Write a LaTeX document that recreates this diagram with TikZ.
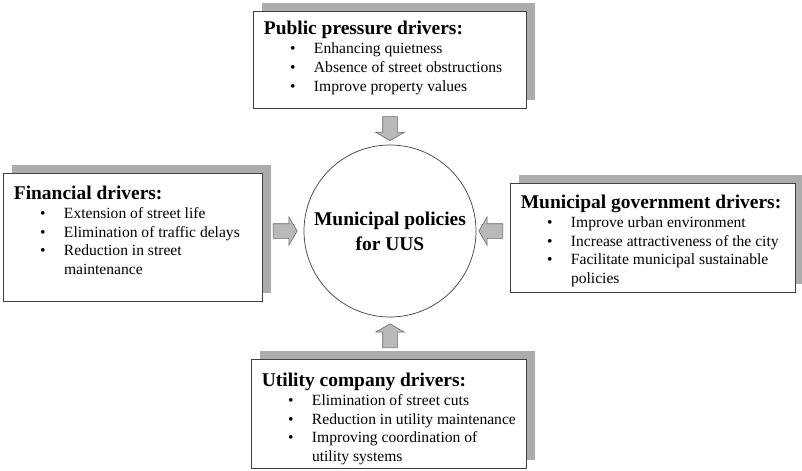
\documentclass[tikz,border=0pt]{standalone}
\usepackage{fontspec}
\setmainfont{Liberation Serif}
\usetikzlibrary{shapes.geometric, shapes.arrows, shadows, calc, positioning}

\newcommand{\bodysize}{\fontsize{13.3}{16.2}\selectfont}
\newcommand{\headsize}{\fontsize{16.6}{20}\selectfont\bfseries}

\begin{document}
\begin{tikzpicture}
    \tikzset{drvbox/.style={draw=black!75, line width=0.6pt, fill=white, inner sep=0pt,
            general shadow={fill=gray!65, shadow xshift=0.27cm, shadow yshift=0.24cm}},
        drvtext/.style={anchor=north west, inner sep=0pt, font=\bodysize},
        push/.style={single arrow, draw=black!60, fill=gray!55, line width=0.5pt,
            inner xsep=0pt, inner ysep=0.21cm, minimum height=0.72cm,
            single arrow head extend=0.21cm, single arrow tip angle=120},
        vpush/.style={push, inner xsep=0.21cm, inner ysep=0pt}
    }

    \useasboundingbox (0,0) rectangle (24.06,14.1);

    % policies in the middle
    \node (hub) [circle, draw=black!75, line width=0.6pt, minimum size=5.16cm, align=center,
        font=\bfseries\fontsize{16.6}{21.3}\selectfont] at (11.7,7.17) {Municipal policies\\for UUS};

    % the four groups of drivers
    \node (pub) [drvbox, minimum width=8.19cm, minimum height=2.91cm] at (11.685,12.315) {};
    \node (fin) [drvbox, minimum width=7.77cm, minimum height=3.84cm] at (3.975,6.99) {};
    \node (gov) [drvbox, minimum width=8.55cm, minimum height=3.27cm] at (19.575,6.975) {};
    \node (util) [drvbox, minimum width=8.25cm, minimum height=3.27cm] at (11.655,1.695) {};

    \node (pub-text) [drvtext] at ($(pub.north west)+(0.33,-0.3)$) {%
        \begin{tabular}{@{\hspace{0.79cm}}l@{\hspace{0.55cm}}l@{}}
            \multicolumn{2}{@{}l@{}}{\headsize Public pressure drivers:}\\
            \textbullet & Enhancing quietness\\
            \textbullet & Absence of street obstructions\\
            \textbullet & Improve property values
        \end{tabular}};
    \node (fin-text) [drvtext] at ($(fin.north west)+(0.33,-0.38)$) {%
        \begin{tabular}{@{\hspace{0.79cm}}l@{\hspace{0.55cm}}l@{}}
            \multicolumn{2}{@{}l@{}}{\headsize Financial drivers:}\\
            \textbullet & Extension of street life\\
            \textbullet & Elimination of traffic delays\\
            \textbullet & Reduction in street\\
                        & maintenance
        \end{tabular}};
    \node (gov-text) [drvtext] at ($(gov.north west)+(0.33,-0.35)$) {%
        \begin{tabular}{@{\hspace{0.79cm}}l@{\hspace{0.55cm}}l@{}}
            \multicolumn{2}{@{}l@{}}{\headsize Municipal government drivers:}\\
            \textbullet & Improve urban environment\\
            \textbullet & Increase attractiveness of the city\\
            \textbullet & Facilitate municipal sustainable\\
                        & policies
        \end{tabular}};
    \node (util-text) [drvtext] at ($(util.north west)+(0.33,-0.41)$) {%
        \begin{tabular}{@{\hspace{0.79cm}}l@{\hspace{0.55cm}}l@{}}
            \multicolumn{2}{@{}l@{}}{\headsize Utility company drivers:}\\
            \textbullet & Elimination of street cuts\\
            \textbullet & Reduction in utility maintenance\\
            \textbullet & Improving coordination of\\
                        & utility systems
        \end{tabular}};

    % block arrows pointing at the circle
    \node (pub-push) [vpush, shape border rotate=270] at ($(pub.south -| hub.center)!0.5!(hub.north)$) {};
    \node (fin-push) [push] at ($(fin.east |- hub.center)!0.5!(hub.west)$) {};
    \node (gov-push) [push, shape border rotate=180] at ($(gov.west |- hub.center)!0.5!(hub.east)$) {};
    \node (util-push) [vpush, shape border rotate=90] at ($(util.north -| hub.center)!0.5!(hub.south)$) {};
\end{tikzpicture}
\end{document}
